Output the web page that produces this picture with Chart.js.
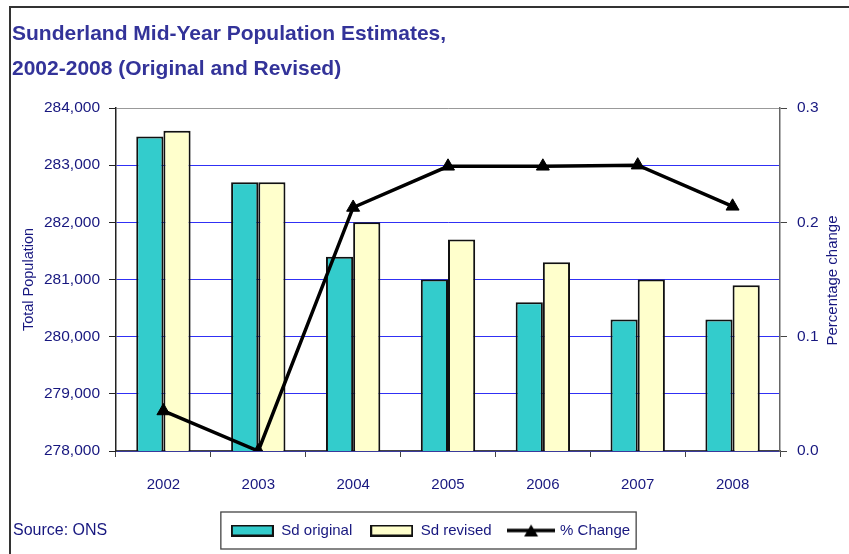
<!DOCTYPE html>
<html>
<head>
<meta charset="utf-8">
<script src="https://cdn.jsdelivr.net/npm/chart.js@4.4.1/dist/chart.umd.min.js"></script>
<style>
body { margin: 0; background: #fff; }
#wrap { width: 849px; height: 554px; position: relative; }
</style>
</head>
<body>
<div id="wrap"><canvas id="chart"></canvas></div>
<script>
const years = ["2002", "2003", "2004", "2005", "2006", "2007", "2008"];
const sdOriginal = [283500, 282700, 281400, 281000, 280600, 280300, 280300];
const sdRevised = [283600, 282700, 282000, 281700, 281300, 281000, 280900];
const pctChange = [0.035, 0.0, 0.213, 0.249, 0.249, 0.25, 0.214];
const popTicks = [278000, 279000, 280000, 281000, 282000, 283000, 284000];
const pctTicks = [0.0, 0.1, 0.2, 0.3];

const FONT = "'Liberation Sans', Arial, sans-serif";
const NAVY = '#17177f';
Chart.defaults.font.family = FONT;
Chart.defaults.color = NAVY;

// legend icons
function barIcon(fill) {
    const c = document.createElement('canvas');
    c.width = 43; c.height = 12;
    const g = c.getContext('2d');
    g.fillStyle = fill;
    g.fillRect(1, 1, 41, 10);
    g.strokeStyle = '#111';
    g.lineWidth = 2;
    g.strokeRect(1, 1, 41, 10);
    return c;
}
function lineIcon() {
    const c = document.createElement('canvas');
    c.width = 48; c.height = 14;
    const g = c.getContext('2d');
    g.strokeStyle = '#000';
    g.lineWidth = 3.5;
    g.beginPath(); g.moveTo(0, 7); g.lineTo(48, 7); g.stroke();
    g.fillStyle = '#000';
    g.beginPath(); g.moveTo(24, 1); g.lineTo(31, 13); g.lineTo(17, 13); g.closePath(); g.fill();
    return c;
}
const icons = [barIcon('#33CCCC'), barIcon('#FFFFCC'), lineIcon()];

const decor = {
    id: 'decor',
    beforeDraw(chart) {
        const c = chart.ctx;
        c.save();
        c.fillStyle = '#fff';
        c.fillRect(0, 0, chart.width, chart.height);
        c.restore();
    },
    afterDraw(chart) {
        const c = chart.ctx;
        c.save();
        // outer frame (left + top only)
        c.strokeStyle = '#333';
        c.lineWidth = 2;
        c.beginPath();
        c.moveTo(10, chart.height);
        c.lineTo(10, 7);
        c.lineTo(chart.width, 7);
        c.stroke();
        // legend border
        const hb = chart.legend.legendHitBoxes;
        const a = hb[0], b = hb[hb.length - 1];
        c.strokeStyle = '#444';
        c.lineWidth = 1.3;
        c.strokeRect(a.left - 10, a.top - 11, b.left + b.width - a.left + 16, a.height + 22);
        // source note
        c.fillStyle = NAVY;
        c.font = '16px ' + FONT;
        c.textBaseline = 'middle';
        c.textAlign = 'left';
        c.fillText('Source: ONS', 13, 531);
        // right axis title, reading bottom to top
        const area = chart.chartArea;
        c.translate(833, (area.top + area.bottom) / 2 + 1);
        c.rotate(-Math.PI / 2);
        c.textAlign = 'center';
        c.font = '15px ' + FONT;
        c.fillText('Percentage change', 0, 0);
        c.restore();
    }
};

new Chart(document.getElementById('chart'), {
    data: {
        labels: years,
        datasets: [
            {
                type: 'bar',
                label: 'Sd original',
                data: sdOriginal,
                backgroundColor: '#33CCCC',
                borderColor: '#111',
                borderWidth: 2,
                yAxisID: 'y',
                order: 1,
                barPercentage: 1,
                categoryPercentage: 0.573
            },
            {
                type: 'bar',
                label: 'Sd revised',
                data: sdRevised,
                backgroundColor: '#FFFFCC',
                borderColor: '#111',
                borderWidth: 2,
                yAxisID: 'y',
                order: 1,
                barPercentage: 1,
                categoryPercentage: 0.573
            },
            {
                type: 'line',
                label: '% Change',
                data: pctChange,
                borderColor: '#000',
                borderWidth: 3.5,
                backgroundColor: '#000',
                pointStyle: 'triangle',
                pointRadius: 7.5,
                pointBorderWidth: 1,
                pointBackgroundColor: '#000',
                pointBorderColor: '#000',
                tension: 0,
                fill: false,
                yAxisID: 'y1',
                order: 0
            }
        ]
    },
    options: {
        responsive: true,
        maintainAspectRatio: false,
        animation: false,
        layout: { padding: { left: 12, right: 0, top: 0, bottom: 6 } },
        plugins: {
            tooltip: { enabled: false },
            title: {
                display: true,
                text: ['Sunderland Mid-Year Population Estimates,', '2002-2008 (Original and Revised)'],
                align: 'start',
                color: '#333399',
                font: { size: 21, weight: 'bold', lineHeight: 35 / 21 },
                padding: { top: 16.5, bottom: 21.5 }
            },
            legend: {
                position: 'bottom',
                labels: {
                    usePointStyle: true,
                    pointStyleWidth: 43,
                    boxHeight: 12,
                    padding: 18,
                    color: NAVY,
                    font: { size: 15 },
                    generateLabels: (chart) => chart.data.datasets.map((ds, i) => ({
                        text: ds.label,
                        pointStyle: icons[i],
                        fontColor: NAVY,
                        fillStyle: 'transparent',
                        strokeStyle: 'transparent',
                        lineWidth: 0,
                        hidden: false,
                        datasetIndex: i
                    }))
                }
            }
        },
        scales: {
            x: {
                grid: { drawOnChartArea: false, drawTicks: true, tickLength: 6, color: '#444', offset: true },
                border: { color: '#444', width: 1.5 },
                ticks: { font: { size: 15 }, color: NAVY, padding: 19 },
                afterFit: (axis) => { axis.height = 54; }
            },
            y: {
                position: 'left',
                min: 278000,
                max: 284000,
                afterBuildTicks: (axis) => { axis.ticks = popTicks.map(v => ({ value: v })); },
                grid: {
                    color: (ctx) => ctx.tick && ctx.tick.value === 284000 ? '#999' : '#3030f5',
                    tickColor: '#222',
                    tickLength: 7,
                    lineWidth: 1
                },
                border: { color: '#222', width: 1.5 },
                ticks: {
                    font: { size: 15.5 },
                    color: NAVY,
                    padding: 9,
                    callback: (v) => v.toLocaleString('en-US')
                },
                title: {
                    display: true,
                    text: 'Total Population',
                    color: NAVY,
                    font: { size: 14.5 },
                    padding: { top: 8, bottom: 4 }
                },
                afterFit: (axis) => { axis.width = 104; }
            },
            y1: {
                position: 'right',
                min: 0,
                max: 0.3,
                afterBuildTicks: (axis) => { axis.ticks = pctTicks.map(v => ({ value: v })); },
                grid: { drawOnChartArea: false, tickColor: '#444', tickLength: 7 },
                border: { color: '#666', width: 1.5 },
                ticks: {
                    font: { size: 15.5 },
                    color: NAVY,
                    padding: 10,
                    callback: (v) => Number(v).toFixed(1)
                },
                afterFit: (axis) => { axis.width = 69; }
            }
        }
    },
    plugins: [decor]
});
</script>
</body>
</html>
